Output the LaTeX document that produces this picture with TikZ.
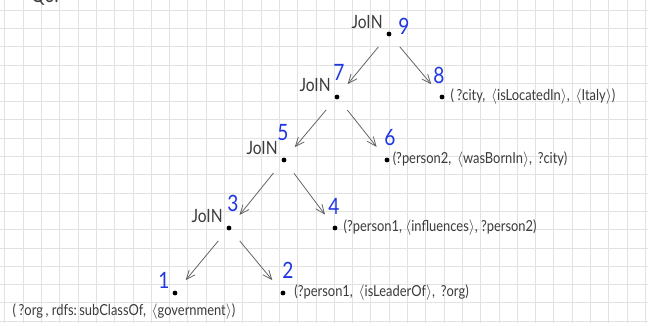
\documentclass[tikz,border=0pt]{standalone}
\usepackage{fontspec}
\setmainfont{Lato}
\newfontfamily\handfont[FakeStretch=0.85]{Lato}
\usetikzlibrary{arrows.meta,positioning}
\definecolor{ink}{RGB}{60,60,60}
\definecolor{pen}{RGB}{30,55,225}
\definecolor{gridline}{RGB}{226,226,226}

\begin{document}
\begin{tikzpicture}[x=0.025cm, y=-0.025cm,
  dot/.style={circle, fill=black, minimum size=3.4pt, inner sep=0pt},
  joinlab/.style={font=\handfont\fontsize{13}{15}\selectfont, text=ink, inner sep=0pt},
  num/.style={font=\handfont\fontsize{16}{18}\selectfont, text=pen, inner sep=0pt},
  txt/.style={font=\handfont\fontsize{10.8}{12}\selectfont, text=ink, inner sep=0pt},
  arr/.style={draw=black!62, line width=0.55pt, -{Straight Barb[length=6.5pt,width=5.5pt]}, shorten <=10pt, shorten >=10pt}]
  \useasboundingbox (0,0) rectangle (648,323);
  \clip (0,0) rectangle (648,323);
  % grid paper
  \fill[white] (0,0) rectangle (648,323);
  \foreach \gx in {0,...,35} \draw[gridline, line width=0.5pt] ({4.8+18.3*\gx},0) -- ++(0,323);
  \foreach \gy in {0,...,17} \draw[gridline, line width=0.5pt] (0,{10+18.3*\gy}) -- ++(648,0);
  % heading, cut by the top edge
  \node[txt, font=\handfont\fontsize{14}{16}\selectfont] (q3) at (45,-3) {Q3.};
  % join tree
  \node[dot] (n9) at (389,34) {};
  \node[dot] (n7) at (337,97) {};
  \node[dot] (n8) at (442,97) {};
  \node[dot] (n5) at (284,160) {};
  \node[dot] (n6) at (387,160) {};
  \node[dot] (n3) at (229,228) {};
  \node[dot] (n4) at (335,228) {};
  \node[dot] (n1) at (175,293) {};
  \node[dot] (n2) at (283,293) {};
  \foreach \j in {9,7,5,3}
    \node[joinlab, above left=2.5pt and 3pt of n\j] (j\j) {JoIN};
  % step numbers
  \node[num] (l9) at (404,26) {9};
  \node[num] (l7) at (339,72) {7};
  \node[num] (l8) at (439,75) {8};
  \node[num] (l5) at (283,133) {5};
  \node[num] (l6) at (390,138) {6};
  \node[num] (l3) at (233,203) {3};
  \node[num] (l4) at (334,206) {4};
  \node[num] (l1) at (164,280) {1};
  \node[num] (l2) at (288,270) {2};
  % triple patterns
  \node[txt, right=4pt of n8] (t8) {(\,?city,\, $\langle$isLocatedIn$\rangle$,\, $\langle$Italy$\rangle$)};
  \node[txt, right=2pt of n6] (t6) {(?person2,\, $\langle$wasBornIn$\rangle$,\, ?city)};
  \node[txt, right=4pt of n4] (t4) {(?person1, $\langle$influences$\rangle$, ?person2)};
  \node[txt, right=6pt of n2] (t2) {(?person1,\, $\langle$isLeaderOf$\rangle$,\, ?org)};
  \node[txt] (t1) at (124,312) {(\,?org\,, rdfs:\,subClassOf,\, $\langle$government$\rangle$)};
  % edges
  \draw[arr] (n9) -- (n7);
  \draw[arr] (n9) -- (n8);
  \draw[arr] (n7) -- (n5);
  \draw[arr] (n7) -- (n6);
  \draw[arr] (n5) -- (n3);
  \draw[arr] (n5) -- (n4);
  \draw[arr] (n3) -- (n1);
  \draw[arr] (n3) -- (n2);
\end{tikzpicture}
\end{document}
